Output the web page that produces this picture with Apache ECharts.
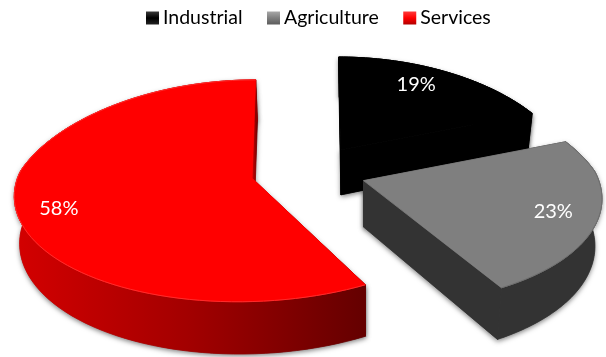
<!DOCTYPE html>
<html>
<head>
<meta charset="utf-8">
<style>html,body{margin:0;padding:0;background:#fff}#chart{width:606px;height:357px}</style>
<script src="https://cdn.jsdelivr.net/npm/echarts@6/dist/echarts.min.js"></script>
</head>
<body>
<div id="chart"></div>
<script>
// Sector shares, clockwise from twelve o'clock
const categories = ['Industrial', 'Agriculture', 'Services'];
const shares = [19, 23, 58];

// Perspective of the tilted disc
const VIEW = {
  vx: 308.5, y0: 171.5, rx: 233, ry: 108, explode: 0.247, depth: 46,
  perspFront: 0.113, perspBack: 0.22, perspY: 0.113, perspOffsetFront: 0.2, perspOffsetBack: 0.06,
  pivotX: 369, squeezeLeft: 0.985, squeezeRight: 0.97
};

const TOP_FILL = ['#000000', '#7f7f7f', '#ff0000'];
const RIM_LINE = ['#000000', '#6e6e6e', '#ff2c2c'];
const WALL_FILL = [
  '#000000',
  '#333333',
  { type: 'linear', x: 0, y: 0, x2: 1, y2: 0, colorStops: [
    { offset: 0, color: '#d40000' }, { offset: 0.5, color: '#a20000' }, { offset: 1, color: '#640000' }
  ] }
];
const LEGEND_FILL = [
  { type: 'linear', x: 0, y: 0, x2: 0, y2: 1, colorStops: [{ offset: 0, color: '#3a3a3a' }, { offset: 0.5, color: '#000' }, { offset: 1, color: '#222' }] },
  { type: 'linear', x: 0, y: 0, x2: 0, y2: 1, colorStops: [{ offset: 0, color: '#a8a8a8' }, { offset: 0.5, color: '#7f7f7f' }, { offset: 1, color: '#5c5c5c' }] },
  { type: 'linear', x: 0, y: 0, x2: 0, y2: 1, colorStops: [{ offset: 0, color: '#ff3a3a' }, { offset: 0.5, color: '#ff0000' }, { offset: 1, color: '#b00000' }] }
];
// Fine placement of the percentage labels
const LABEL_NUDGE = [[-13, 0], [-1, -1], [0, 8]];

const total = shares.reduce((a, b) => a + b, 0);
const spans = [];
shares.reduce((start, v) => {
  const sweep = v / total * Math.PI * 2;
  spans.push([start, start + sweep]);
  return start + sweep;
}, 0);

// A point is a slice offset (ou, ov) plus a radial part (ru, rv), in disc units
function project(pt, lowered) {
  const [ou, ov, ru, rv] = pt;
  const v = ov + rv;
  const sOffset = 1 / (1 - (v > 0 ? VIEW.perspOffsetFront : VIEW.perspOffsetBack) * v);
  const sRadial = 1 / (1 - (v > 0 ? VIEW.perspFront : VIEW.perspBack) * v);
  const sY = 1 / (1 - VIEW.perspY * v);
  let x = VIEW.vx + ou * VIEW.rx * sOffset + ru * VIEW.rx * sRadial;
  let y = VIEW.y0 + v * VIEW.ry * sY;
  if (lowered) {
    const c = x < VIEW.pivotX ? VIEW.squeezeLeft : VIEW.squeezeRight;
    x = VIEW.pivotX + (x - VIEW.pivotX) * c;
    y += VIEW.depth * sY;
  }
  return [x, y];
}

function sliceGeometry(i) {
  const [a0, a1] = spans[i];
  const mid = (a0 + a1) / 2;
  const ou = Math.sin(mid) * VIEW.explode;
  const ov = -Math.cos(mid) * VIEW.explode;
  const at = (angle, r) => [ou, ov, Math.sin(angle) * r, -Math.cos(angle) * r];
  const arc = [];
  const n = 90;
  for (let k = 0; k <= n; k++) arc.push(at(a0 + (a1 - a0) * k / n, 1));
  return { mid, apex: [ou, ov, 0, 0], arc, at };
}

function renderSlice(i) {
  return function (params, api) {
    const g = sliceGeometry(i);
    const up = p => project(p, false);
    const dn = p => project(p, true);
    const last = g.arc[g.arc.length - 1];
    const first = g.arc[0];
    const wallShapes = [
      [up(g.apex), dn(g.apex), dn(first), up(first)],
      [up(g.apex), dn(g.apex), dn(last), up(last)],
      g.arc.map(up).concat(g.arc.map(dn).reverse())
    ];
    const soft = pts => ({
      type: 'polygon',
      shape: { points: pts },
      style: { fill: '#555555', shadowBlur: 5, shadowColor: 'rgba(0,0,0,0.5)', shadowOffsetX: 0, shadowOffsetY: 2 }
    });
    const wall = pts => ({
      type: 'polygon',
      shape: { points: pts },
      style: { fill: WALL_FILL[i], stroke: WALL_FILL[i], lineWidth: 0.8 }
    });
    const lp = up(g.at(g.mid, 0.82));
    return {
      type: 'group',
      children: wallShapes.map(soft).concat(wallShapes.map(wall)).concat([
        {
          type: 'polygon',
          shape: { points: [up(g.apex)].concat(g.arc.map(up)) },
          style: { fill: TOP_FILL[i], stroke: TOP_FILL[i], lineWidth: 0.8 }
        },
        {
          type: 'polyline',
          shape: { points: g.arc.map(up) },
          style: { fill: 'none', stroke: RIM_LINE[i], lineWidth: 1 }
        },
        {
          type: 'text',
          style: {
            text: Math.round(api.value(0) / total * 100) + '%',
            x: lp[0] + LABEL_NUDGE[i][0],
            y: lp[1] + LABEL_NUDGE[i][1],
            fill: '#ffffff',
            font: '20px Lato',
            align: 'center',
            verticalAlign: 'middle'
          }
        }
      ])
    };
  };
}

const chart = echarts.init(document.getElementById('chart'), null, { renderer: 'canvas' });
chart.setOption({
  animation: false,
  backgroundColor: '#ffffff',
  legend: {
    top: 3,
    left: 141,
    itemWidth: 13,
    itemHeight: 13,
    itemGap: 24.5,
    icon: 'rect',
    textStyle: { fontFamily: 'Lato', fontSize: 19.5, color: '#000000', padding: [0, 0, 0, -1] },
    data: categories.map((name, i) => ({ name, itemStyle: { color: LEGEND_FILL[i] } }))
  },
  series: categories.map((name, i) => ({
    type: 'custom',
    name,
    coordinateSystem: 'none',
    silent: true,
    z: i + 1,
    itemStyle: { color: TOP_FILL[i] },
    data: [[shares[i]]],
    renderItem: renderSlice(i)
  }))
});
</script>
</body>
</html>
